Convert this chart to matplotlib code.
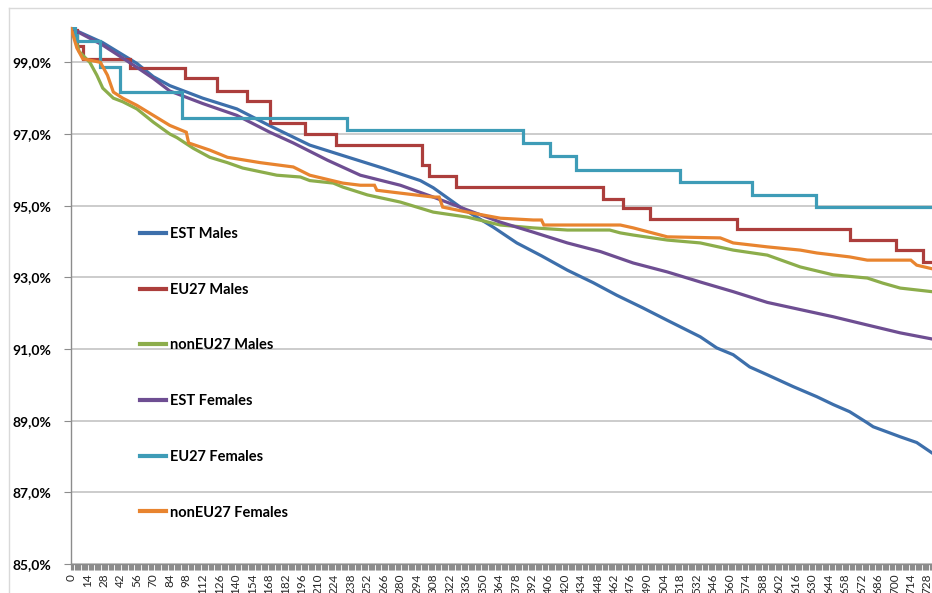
import numpy as np
import matplotlib.pyplot as plt
from matplotlib.lines import Line2D
from matplotlib.ticker import MultipleLocator, FixedLocator

plt.rcParams['font.family'] = ['Lato', 'DejaVu Sans']

# --- data (day, share still in cohort, %) ---
est_m_days = [0, 27, 56, 70, 84, 112, 141, 169, 203, 231, 265, 297, 308, 331, 359, 379, 400,
              422, 444, 464, 486, 507, 535, 549, 563, 577, 592, 614, 634, 648, 662, 677, 682,
              705, 719, 732]
est_m_vals = [99.95, 99.55, 98.97, 98.60, 98.35, 98.00, 97.70, 97.23, 96.69, 96.40, 96.05,
              95.70, 95.50, 94.96, 94.40, 93.96, 93.60, 93.20, 92.85, 92.50, 92.15, 91.80, 91.34,
              91.03, 90.84, 90.50, 90.28, 89.95, 89.67, 89.45, 89.25, 88.94, 88.83, 88.55, 88.39,
              88.10]

eu_m_days = [0, 5, 10, 50, 97, 124, 150, 169, 199, 225, 298, 304, 327, 452, 469, 492, 566, 662,
             701, 724, 732]
eu_m_vals = [99.90, 99.45, 99.10, 98.83, 98.55, 98.20, 97.92, 97.30, 97.00, 96.70, 96.13, 95.82,
             95.52, 95.20, 94.93, 94.62, 94.34, 94.04, 93.76, 93.43, 93.43]

noneu_m_days = [0, 2, 7, 16, 22, 27, 36, 44, 56, 70, 84, 90, 104, 118, 133, 146, 175, 195, 203,
                223, 231, 252, 280, 308, 337, 365, 393, 422, 458, 467, 478, 507, 535, 563, 592,
                620, 648, 677, 690, 705, 732]
noneu_m_vals = [99.95, 99.85, 99.30, 99.00, 98.64, 98.28, 98.00, 97.90, 97.70, 97.33, 97.00,
                96.90, 96.60, 96.35, 96.20, 96.05, 95.85, 95.80, 95.70, 95.63, 95.52, 95.30,
                95.10, 94.82, 94.68, 94.46, 94.38, 94.32, 94.32, 94.24, 94.18, 94.04, 93.96,
                93.76, 93.62, 93.29, 93.07, 92.98, 92.84, 92.70, 92.60]

est_f_days = [0, 27, 56, 70, 84, 112, 141, 169, 189, 218, 246, 280, 308, 337, 365, 393, 422, 450,
              478, 507, 535, 563, 592, 620, 648, 677, 705, 732]
est_f_vals = [99.95, 99.48, 98.86, 98.55, 98.20, 97.85, 97.52, 97.05, 96.75, 96.27, 95.85, 95.57,
              95.24, 94.88, 94.54, 94.26, 93.96, 93.72, 93.40, 93.15, 92.87, 92.60, 92.30, 92.10,
              91.90, 91.67, 91.45, 91.28]

eu_f_days = [0, 3, 5, 25, 42, 94, 235, 384, 407, 429, 518, 579, 633, 732]
eu_f_vals = [99.95, 99.75, 99.60, 98.86, 98.16, 97.46, 97.10, 96.75, 96.38, 96.00, 95.66, 95.30,
             94.95, 94.95]

noneu_f_days = [0, 5, 10, 25, 31, 36, 44, 56, 70, 84, 98, 100, 118, 133, 161, 189, 203, 231, 246,
                258, 260, 280, 308, 313, 316, 337, 365, 393, 400, 402, 467, 478, 507, 552, 563,
                592, 620, 634, 662, 677, 714, 719, 732]
noneu_f_vals = [99.95, 99.40, 99.10, 99.00, 98.64, 98.17, 98.00, 97.80, 97.52, 97.24, 97.05,
                96.75, 96.55, 96.35, 96.20, 96.08, 95.85, 95.63, 95.57, 95.57, 95.43, 95.35,
                95.24, 95.24, 94.96, 94.82, 94.65, 94.60, 94.60, 94.46, 94.46, 94.38, 94.13,
                94.10, 93.96, 93.85, 93.76, 93.68, 93.57, 93.48, 93.48, 93.34, 93.24]

labels = ['EST Males', 'EU27 Males', 'nonEU27 Males', 'EST Females', 'EU27 Females', 'nonEU27 Females']
colors = ['#3d6fab', '#ac3e3c', '#8cad4b', '#6e4e92', '#3e9cb7', '#e8842f']

W, H = 932, 593
fig = plt.figure(figsize=(W / 100, H / 100), dpi=100)
ax = fig.add_axes([71 / W, 29 / H, 1 - 71 / W, (564 - 26.5) / H])

series = [
    (est_m_days, est_m_vals, 'default'),
    (eu_m_days, eu_m_vals, 'steps-post'),
    (noneu_m_days, noneu_m_vals, 'default'),
    (est_f_days, est_f_vals, 'default'),
    (eu_f_days, eu_f_vals, 'steps-post'),
    (noneu_f_days, noneu_f_vals, 'default'),
]
for i, ((d, v, ds), lab, c) in enumerate(zip(series, labels, colors)):
    ax.plot(d, v, color=c, lw=2.3, label=lab, drawstyle=ds, zorder=3 + i,
            solid_joinstyle='miter')

ax.set_xlim(0, 732)
ax.set_ylim(85, 100)
ax.yaxis.set_major_locator(FixedLocator(np.arange(85, 100, 2)))
ax.set_yticklabels([f'{t:.1f}%'.replace('.', ',') for t in np.arange(85, 100, 2)],
                   fontweight='bold', fontsize=10)
ax.grid(axis='y', color='#bfbfbf', lw=1.1)
ax.set_axisbelow(True)

xt = np.arange(0, 733, 14)
ax.set_xticks(xt)
ax.set_xticklabels([str(t) for t in xt], rotation=90, fontsize=8.5, color='#262626')
ax.xaxis.set_minor_locator(MultipleLocator(1))
ax.tick_params(axis='x', which='both', length=4, width=0.8, color='#8c8c8c', pad=3)
ax.tick_params(axis='y', length=5, width=0.8, color='#8c8c8c', pad=9)

for s in ['top', 'right']:
    ax.spines[s].set_visible(False)
for s in ['left', 'bottom']:
    ax.spines[s].set_color('#8c8c8c')
    ax.spines[s].set_linewidth(1)

leg = ax.legend(loc='upper left', bbox_to_anchor=(140 / W, 1 - 227 / H),
                bbox_transform=fig.transFigure, frameon=False, borderpad=0,
                borderaxespad=0, labelspacing=2.86, handlelength=1.8,
                handletextpad=0.25, prop={'weight': 'bold', 'size': 10.5})
for line in leg.get_lines():
    line.set_linewidth(3)

# chart frame
fig.add_artist(Line2D([9 / W, 9 / W], [0, 1 - 8 / H], color='#d9d9d9', lw=1))
fig.add_artist(Line2D([9 / W, 1], [1 - 8 / H, 1 - 8 / H], color='#d9d9d9', lw=1))

fig.savefig('out.png', dpi=100)
